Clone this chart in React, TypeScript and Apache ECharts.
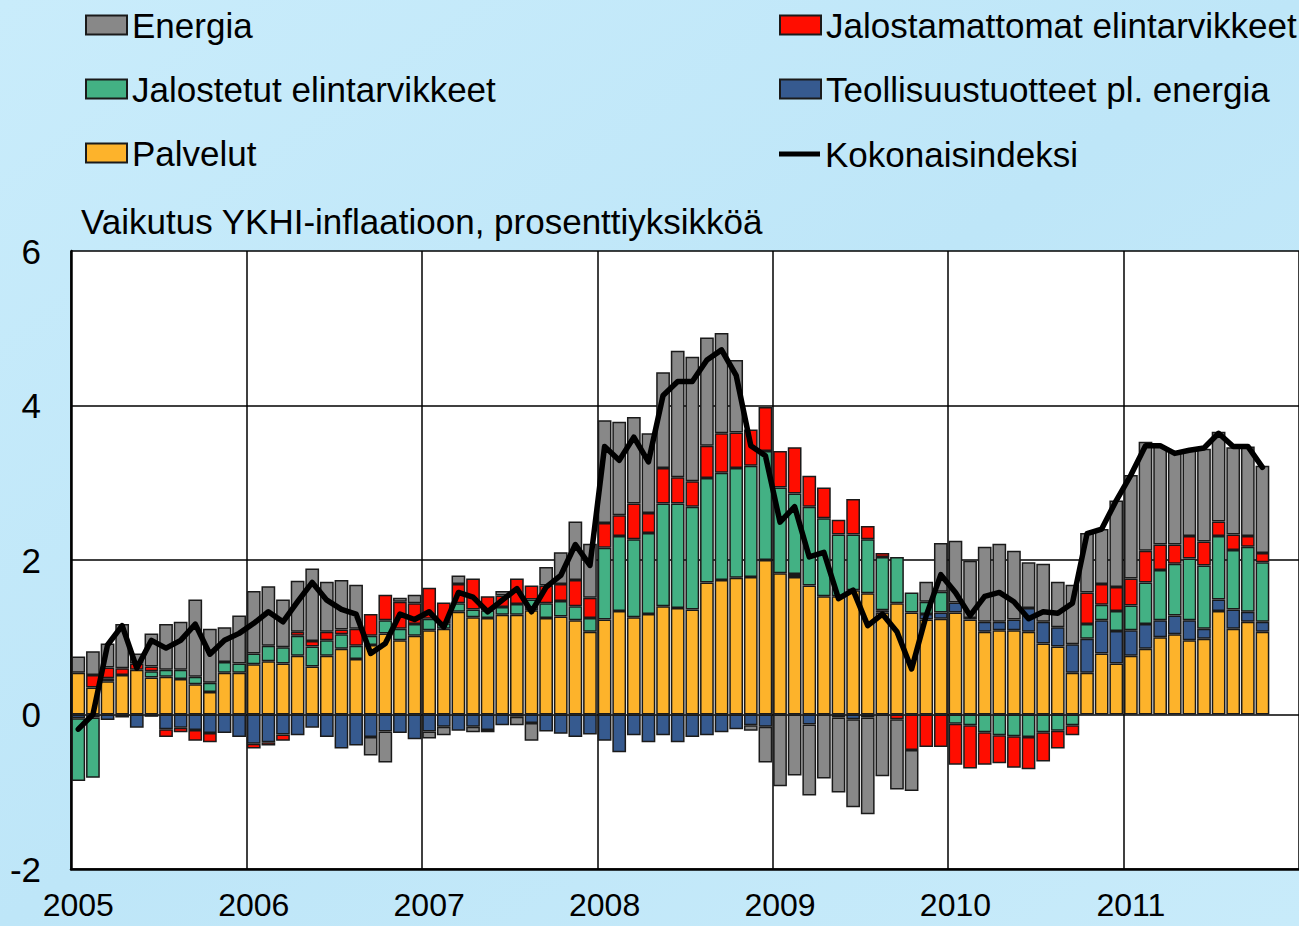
import React, { useEffect, useRef } from "react";
import * as echarts from "echarts";

const years = ["2005", "2006", "2007", "2008", "2009", "2010", "2011"];
const months = ["01", "02", "03", "04", "05", "06", "07", "08", "09", "10", "11", "12"];
const categories = years.flatMap((y) => months.map((m) => `${y}-${m}`));

const axisTitle = "Vaikutus YKHI-inflaatioon, prosenttiyksikköä";

// Palvelut (services)
const palvelut = [
  0.54, 0.35, 0.43, 0.51, 0.58, 0.48, 0.49, 0.46, 0.39, 0.29, 0.54, 0.54,
  0.65, 0.69, 0.66, 0.76, 0.62, 0.76, 0.85, 0.72, 0.9, 1.05, 0.96, 1.02,
  1.09, 1.11, 1.33, 1.26, 1.25, 1.29, 1.29, 1.35, 1.25, 1.27, 1.22, 1.07,
  1.23, 1.34, 1.26, 1.3, 1.4, 1.38, 1.36, 1.71, 1.74, 1.77, 1.78, 2.0,
  1.83, 1.78, 1.67, 1.53, 1.53, 1.61, 1.57, 1.32, 1.44, 1.32, 1.23, 1.24,
  1.32, 1.23, 1.07, 1.09, 1.09, 1.07, 0.92, 0.88, 0.54, 0.54, 0.79, 0.66,
  0.76, 0.85, 1.0, 1.04, 0.96, 0.98, 1.34, 1.11, 1.2, 1.07,
];

// Teollisuustuotteet pl. energia
const teollisuus = [
  -0.05, -0.04, -0.07, -0.04, -0.17, -0.03, -0.19, -0.17, -0.2, -0.24, -0.24, -0.29,
  -0.38, -0.36, -0.26, -0.27, -0.17, -0.29, -0.44, -0.4, -0.29, -0.22, -0.24, -0.32,
  -0.22, -0.16, -0.21, -0.16, -0.2, -0.14, -0.03, -0.11, -0.22, -0.25, -0.29, -0.26,
  -0.34, -0.49, -0.27, -0.36, -0.27, -0.36, -0.29, -0.27, -0.23, -0.19, -0.14, -0.16,
  0, 0.04, -0.13, 0, -0.04, -0.06, -0.04, 0.03, 0, 0, 0.07, 0.08,
  0.13, 0.02, 0.13, 0.11, 0.14, 0.31, 0.28, 0.25, 0.37, 0.44, 0.43, 0.42,
  0.33, 0.32, 0.22, 0.24, 0.26, 0.13, 0.15, 0.25, 0.13, 0.13,
];

// Jalostetut elintarvikkeet
const jalostetut = [
  -0.81, -0.78, 0.04, 0, 0, 0.08, 0.09, 0.12, 0.1, 0.12, 0.14, 0.12,
  0.14, 0.2, 0.21, 0.26, 0.26, 0.2, 0.19, 0.17, 0.12, 0.17, 0.15, 0.15,
  0.15, 0.07, 0.11, 0.1, 0.1, 0.1, 0.14, 0.14, 0.19, 0.2, 0.18, 0.18,
  0.93, 0.97, 1.01, 1.05, 1.33, 1.35, 1.33, 1.35, 1.39, 1.42, 1.44, 1.41,
  1.11, 1.04, 1.02, 1.01, 0.8, 0.72, 0.7, 0.69, 0.6, 0.26, 0.16, 0.27,
  -0.12, -0.14, -0.23, -0.27, -0.28, -0.29, -0.23, -0.21, -0.14, 0.19, 0.2, 0.26,
  0.32, 0.54, 0.65, 0.67, 0.8, 0.82, 0.82, 0.77, 0.84, 0.77,
];

// Jalostamattomat elintarvikkeet
const jalostamattomat = [
  0, 0.16, 0.14, 0.09, 0.08, 0.06, -0.1, -0.06, -0.14, -0.12, 0, 0,
  -0.06, -0.04, -0.08, 0.05, 0.07, 0.11, 0.06, 0.22, 0.28, 0.33, 0.35, 0.27,
  0.4, 0.27, 0.25, 0.4, 0.18, 0.15, 0.33, 0.18, 0.23, 0.22, 0.34, 0.26,
  0.32, 0.27, 0.46, 0.26, 0.46, 0.34, 0.33, 0.42, 0.51, 0.46, 0.47, 0.57,
  0.47, 0.6, 0.4, 0.4, 0.19, 0.46, 0.17, 0.05, -0.06, -0.46, -0.42, -0.42,
  -0.53, -0.56, -0.42, -0.36, -0.41, -0.42, -0.38, -0.23, -0.13, 0.41, 0.27, 0.31,
  0.35, 0.41, 0.33, 0.25, 0.29, 0.31, 0.19, 0.2, 0.14, 0.12,
];

// Energia
const energia = [
  0.21, 0.31, 0.31, 0.57, 0.13, 0.43, 0.59, 0.62, 1.0, 0.7, 0.45, 0.62,
  0.81, 0.77, 0.62, 0.66, 0.94, 0.65, 0.64, 0.57, -0.24, -0.4, 0.05, 0.11,
  -0.09, -0.11, 0.11, -0.07, -0.03, 0.06, -0.11, -0.23, 0.24, 0.41, 0.76, 0.7,
  1.33, 1.21, 1.12, 1.03, 1.24, 1.64, 1.61, 1.4, 1.3, 0.94, -0.07, -0.46,
  -0.93, -0.79, -0.92, -0.83, -0.97, -1.14, -1.25, -0.8, -0.91, -0.53, 0.26, 0.63,
  0.8, 0.74, 0.97, 1.01, 0.89, 0.59, 0.75, 0.59, 0.77, 0.77, 0.71, 1.12,
  1.34, 1.41, 1.27, 1.21, 1.12, 1.2, 1.16, 1.13, 1.16, 1.13,
];

// Kokonaisindeksi (total HICP inflation)
const kokonaisindeksi = [
  -0.19, 0.0, 0.9, 1.15, 0.6, 0.96, 0.86, 0.96, 1.17, 0.78, 0.96, 1.05,
  1.18, 1.33, 1.2, 1.46, 1.71, 1.48, 1.36, 1.3, 0.79, 0.92, 1.3, 1.23,
  1.33, 1.13, 1.58, 1.52, 1.33, 1.48, 1.63, 1.33, 1.65, 1.8, 2.2, 1.93,
  3.47, 3.29, 3.59, 3.27, 4.13, 4.31, 4.31, 4.59, 4.72, 4.39, 3.48, 3.35,
  2.49, 2.69, 2.04, 2.1, 1.5, 1.61, 1.15, 1.3, 1.07, 0.59, 1.28, 1.81,
  1.58, 1.28, 1.53, 1.58, 1.46, 1.24, 1.33, 1.31, 1.44, 2.34, 2.4, 2.77,
  3.1, 3.48, 3.48, 3.38, 3.42, 3.45, 3.64, 3.47, 3.47, 3.2,
];

const yMin = -2;
const yMax = 6;
const yInterval = 2;

const FONT = "'Liberation Sans', Arial, sans-serif";

const nz = (arr: number[]) => arr.map((v) => (v === 0 ? null : v));

export default function App() {
  const ref = useRef<HTMLDivElement>(null);

  useEffect(() => {
    if (!ref.current) return;
    const chart = echarts.init(ref.current, undefined, { renderer: "svg" });

    const barBase = {
      type: "bar" as const,
      stack: "total",
      barCategoryGap: "6%",
      itemStyle: { borderColor: "#1a1a1a", borderWidth: 1.5 },
    };

    const legendText = { fontSize: 35, color: "#000", fontFamily: FONT, lineHeight: 36 };
    const legendBase = {
      orient: "vertical" as const,
      padding: 0,
      itemWidth: 41,
      itemHeight: 19,
      itemGap: 28,
      icon: "rect",
      selectedMode: false,
      textStyle: legendText,
    };

    chart.setOption({
      animation: false,
      backgroundColor: {
        type: "linear",
        x: 0,
        y: 0,
        x2: 1,
        y2: 1,
        colorStops: [
          { offset: 0, color: "#c9ecfb" },
          { offset: 0.5, color: "#bee6f8" },
          { offset: 1, color: "#c8ebfa" },
        ],
      },
      textStyle: { fontFamily: FONT },
      title: {
        text: axisTitle,
        left: 76,
        top: 199,
        textStyle: { fontSize: 35, fontWeight: "normal", color: "#000", fontFamily: FONT },
      },
      legend: [
        {
          ...legendBase,
          data: ["Energia", "Jalostetut elintarvikkeet", "Palvelut"],
          left: 85,
          top: 7,
        },
        {
          ...legendBase,
          data: ["Jalostamattomat elintarvikkeet", "Teollisuustuotteet pl. energia"],
          left: 779,
          top: 7,
        },
        {
          ...legendBase,
          data: ["Kokonaisindeksi"],
          left: 779,
          top: 136,
          itemHeight: 5,
        },
      ],
      grid: {
        left: 71,
        top: 251,
        right: -4,
        bottom: 57,
        show: true,
        backgroundColor: "#ffffff",
        borderWidth: 0,
      },
      xAxis: {
        type: "category",
        data: categories,
        boundaryGap: true,
        axisLine: { onZero: false, lineStyle: { color: "#000", width: 2.5 } },
        axisTick: { show: false },
        axisLabel: {
          interval: (i: number) => i % 12 === 0,
          formatter: (v: string) => v.slice(0, 4),
          fontSize: 32,
          lineHeight: 28,
          color: "#000",
          fontFamily: FONT,
          margin: 22,
        },
        splitLine: {
          show: true,
          interval: (i: number) => i % 12 === 0,
          lineStyle: { color: "#000", width: 1.5 },
        },
      },
      yAxis: {
        type: "value",
        min: yMin,
        max: yMax,
        interval: yInterval,
        axisLine: { show: true, lineStyle: { color: "#000", width: 2.5 } },
        axisTick: { show: false },
        axisLabel: { fontSize: 35, color: "#000", fontFamily: FONT, margin: 30 },
        splitLine: { show: true, lineStyle: { color: "#000", width: 1.5 } },
      },
      series: [
        { ...barBase, name: "Palvelut", data: nz(palvelut), itemStyle: { ...barBase.itemStyle, color: "#fdb32b" } },
        { ...barBase, name: "Teollisuustuotteet pl. energia", data: nz(teollisuus), itemStyle: { ...barBase.itemStyle, color: "#365a8f" } },
        { ...barBase, name: "Jalostetut elintarvikkeet", data: nz(jalostetut), itemStyle: { ...barBase.itemStyle, color: "#43b184" } },
        { ...barBase, name: "Jalostamattomat elintarvikkeet", data: nz(jalostamattomat), itemStyle: { ...barBase.itemStyle, color: "#ff0d00" } },
        { ...barBase, name: "Energia", data: nz(energia), itemStyle: { ...barBase.itemStyle, color: "#888888" } },
        {
          type: "line",
          name: "Kokonaisindeksi",
          data: kokonaisindeksi,
          symbol: "none",
          z: 10,
          itemStyle: { color: "#000" },
          lineStyle: { color: "#000", width: 5.5, join: "round", cap: "round" },
        },
      ],
    });

    return () => chart.dispose();
  }, []);

  return (
    <div
      ref={ref}
      style={{ position: "absolute", left: 0, top: 0, width: 1299, height: 926 }}
    />
  );
}
